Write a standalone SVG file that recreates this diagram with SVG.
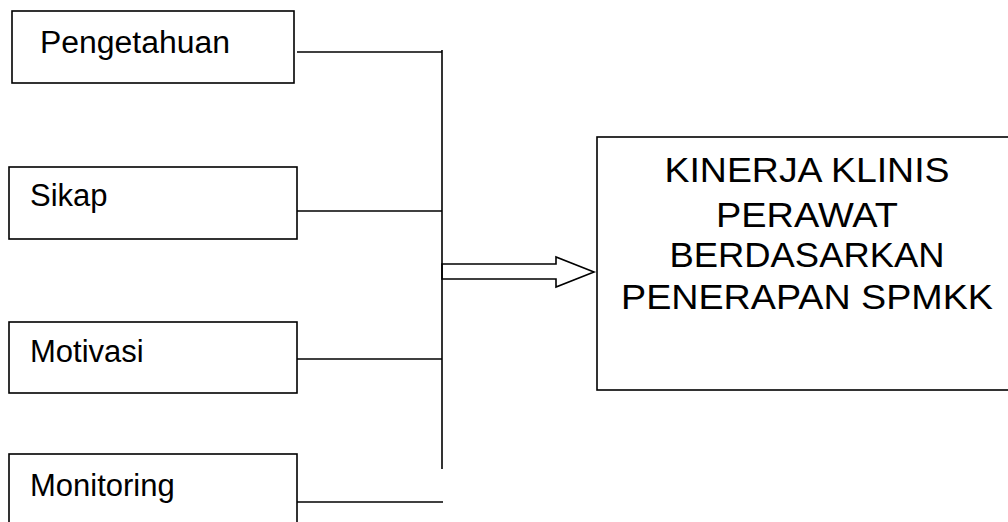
<svg xmlns="http://www.w3.org/2000/svg" width="1008" height="522" viewBox="0 0 1008 522">
  <style>
    .box { fill: #fff; stroke: #000; stroke-width: 1.6; }
    .lbl { font-family: "Liberation Sans", Arial, sans-serif; font-size: 31px; fill: #000; }
    .big { font-family: "Liberation Sans", Arial, sans-serif; font-size: 35.5px; fill: #000; text-anchor: middle; }
    .wire { stroke: #000; stroke-width: 1.6; fill: none; }
  </style>
  <rect width="1008" height="522" fill="#fff"/>

  <g id="connectors">
    <line class="wire" x1="442" y1="50" x2="442" y2="469"/>
    <line class="wire" x1="297" y1="52" x2="442" y2="52"/>
    <line class="wire" x1="297" y1="211" x2="442" y2="211"/>
    <line class="wire" x1="297" y1="359" x2="442" y2="359"/>
    <line class="wire" x1="297" y1="502" x2="443" y2="502"/>
    <polygon class="wire" fill="#fff" points="442,264 556,264 556,257 594,272 556,287 556,279 442,279"/>
  </g>

  <g id="pengetahuan">
    <rect class="box" x="12" y="11" width="282" height="72"/>
    <text class="lbl" x="40" y="53" textLength="190" lengthAdjust="spacingAndGlyphs">Pengetahuan</text>
  </g>
  <g id="sikap">
    <rect class="box" x="9" y="167" width="288" height="72"/>
    <text class="lbl" x="30" y="206">Sikap</text>
  </g>
  <g id="motivasi">
    <rect class="box" x="9" y="322" width="288" height="71"/>
    <text class="lbl" x="30" y="362">Motivasi</text>
  </g>
  <g id="monitoring">
    <rect class="box" x="9" y="454" width="288" height="90"/>
    <text class="lbl" x="30" y="496">Monitoring</text>
  </g>

  <g id="kinerja">
    <rect class="box" x="597" y="137" width="430" height="253"/>
    <text class="big" x="807" y="181.5" textLength="285" lengthAdjust="spacingAndGlyphs">KINERJA KLINIS</text>
    <text class="big" x="807" y="226.5" textLength="182" lengthAdjust="spacingAndGlyphs">PERAWAT</text>
    <text class="big" x="807" y="267" textLength="275" lengthAdjust="spacingAndGlyphs">BERDASARKAN</text>
    <text class="big" x="807" y="309" textLength="372" lengthAdjust="spacingAndGlyphs">PENERAPAN SPMKK</text>
  </g>
</svg>
